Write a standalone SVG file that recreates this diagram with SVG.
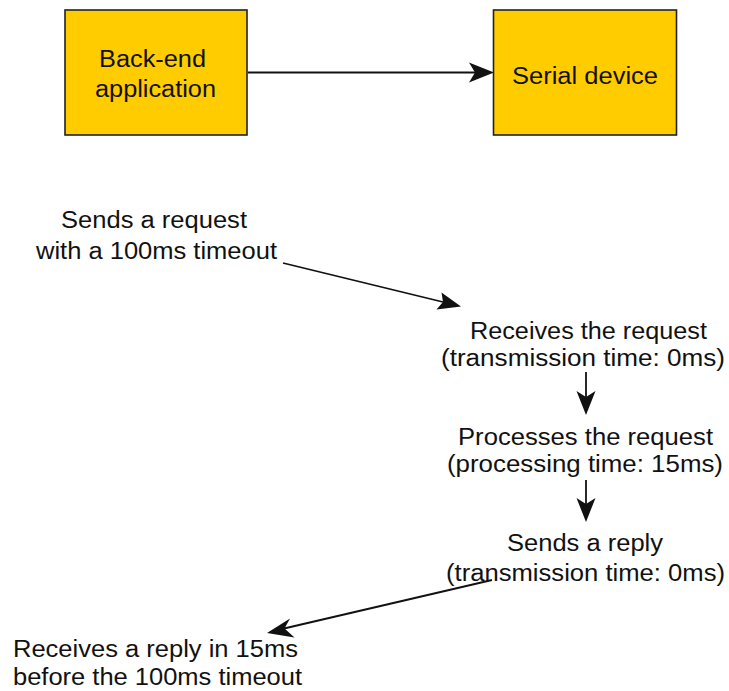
<svg xmlns="http://www.w3.org/2000/svg" width="729" height="691" viewBox="0 0 729 691">
  <style>
    .box { fill: #ffcc00; stroke: #222222; stroke-width: 1.6; }
    .lbl { font-family: "Liberation Sans", Arial, sans-serif; font-size: 23px; fill: #111111; text-anchor: start; }
    .edge { stroke: #111111; stroke-width: 1.8; fill: none; }
    .head { fill: #111111; }
  </style>
  <rect width="729" height="691" fill="#ffffff"/>

  <g id="connectors">
    <!-- back-end to serial device -->
    <line class="edge" x1="248" y1="72.5" x2="475" y2="72.5"/>
    <polygon class="head" points="494,72.5 469,62.5 475,72.5 469,82.5"/>
    <!-- request sent -->
    <line class="edge" x1="283" y1="263" x2="443" y2="302"/>
    <polygon class="head" points="461,306.5 436.5,309.5 443,302 441.5,292.5"/>
    <!-- receive to process -->
    <line class="edge" x1="586" y1="372" x2="586" y2="398"/>
    <polygon class="head" points="586,415 576.5,391 586,397 595.5,391"/>
    <!-- process to reply -->
    <line class="edge" x1="586" y1="480" x2="586" y2="505"/>
    <polygon class="head" points="586,522 576.5,498 586,504 595.5,498"/>
    <!-- reply returned -->
    <line class="edge" x1="492" y1="580" x2="284" y2="628.5"/>
    <polygon class="head" points="267,633 290,618.5 284.5,628.5 294.5,637.5"/>
  </g>

  <g id="backend">
    <rect class="box" x="65" y="10" width="182" height="125"/>
    <text class="lbl" x="99" y="67" textLength="107" lengthAdjust="spacingAndGlyphs">Back-end</text>
    <text class="lbl" x="95" y="97" textLength="121" lengthAdjust="spacingAndGlyphs">application</text>
  </g>

  <g id="serial">
    <rect class="box" x="493.5" y="10" width="183" height="125"/>
    <text class="lbl" x="512" y="83.5" textLength="146" lengthAdjust="spacingAndGlyphs">Serial device</text>
  </g>

  <g id="send-request">
    <text class="lbl" x="61" y="227.5" textLength="186" lengthAdjust="spacingAndGlyphs">Sends a request</text>
    <text class="lbl" x="36" y="259" textLength="241" lengthAdjust="spacingAndGlyphs">with a 100ms timeout</text>
  </g>

  <g id="receive-request">
    <text class="lbl" x="470" y="338.5" textLength="237" lengthAdjust="spacingAndGlyphs">Receives the request</text>
    <text class="lbl" x="441" y="365.5" textLength="284" lengthAdjust="spacingAndGlyphs">(transmission time: 0ms)</text>
  </g>

  <g id="process-request">
    <text class="lbl" x="458" y="444.5" textLength="255" lengthAdjust="spacingAndGlyphs">Processes the request</text>
    <text class="lbl" x="447" y="472" textLength="276" lengthAdjust="spacingAndGlyphs">(processing time: 15ms)</text>
  </g>

  <g id="send-reply">
    <text class="lbl" x="507" y="551" textLength="156" lengthAdjust="spacingAndGlyphs">Sends a reply</text>
    <text class="lbl" x="446" y="581" textLength="279" lengthAdjust="spacingAndGlyphs">(transmission time: 0ms)</text>
  </g>

  <g id="receive-reply">
    <text class="lbl" x="13" y="657" textLength="285" lengthAdjust="spacingAndGlyphs">Receives a reply in 15ms</text>
    <text class="lbl" x="13" y="685" textLength="289" lengthAdjust="spacingAndGlyphs">before the 100ms timeout</text>
  </g>
</svg>
